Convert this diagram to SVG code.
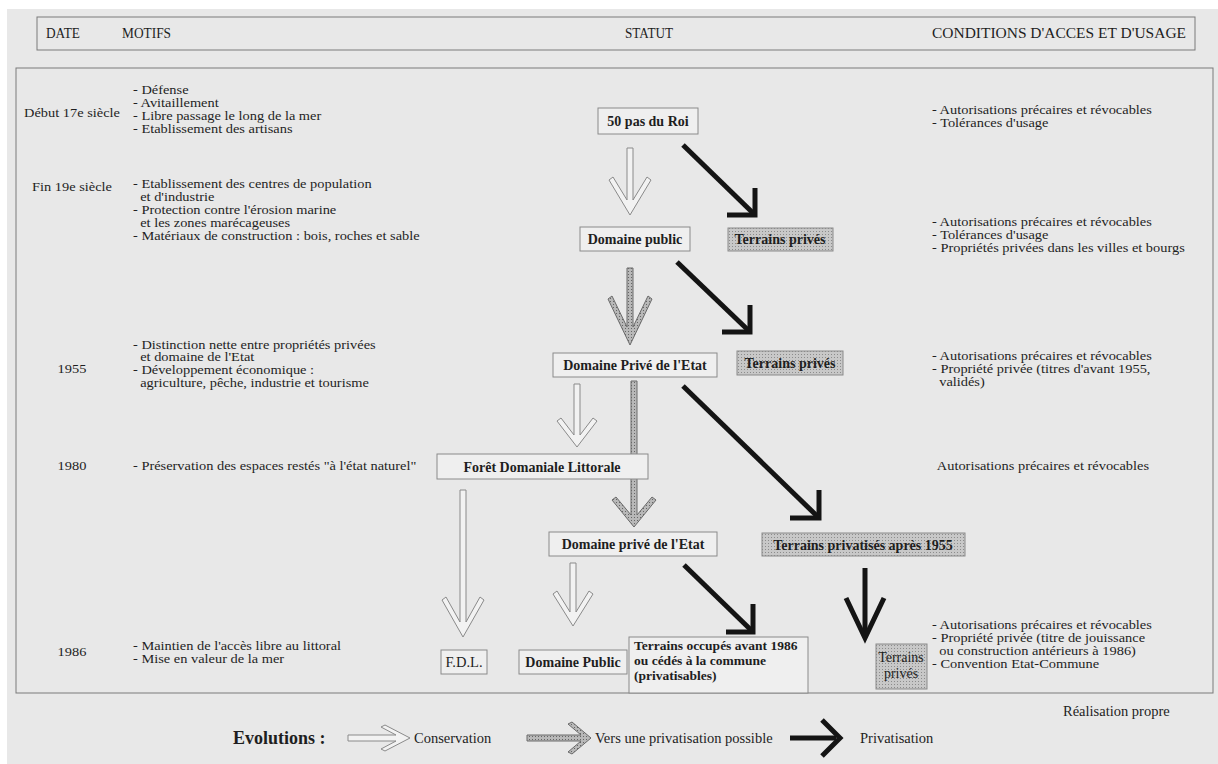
<svg xmlns="http://www.w3.org/2000/svg" width="1218" height="764" viewBox="0 0 1218 764">
<defs>
<pattern id="dots" width="3" height="3" patternUnits="userSpaceOnUse">
<rect width="3" height="3" fill="#c8c8c8"/>
<rect x="0" y="0" width="1" height="1" fill="#8c8c8c"/>
</pattern>
<pattern id="hatch" width="3" height="3" patternUnits="userSpaceOnUse">
<rect width="3" height="3" fill="#b8b8b8"/>
<rect x="1" y="1" width="1" height="1" fill="#666666"/>
</pattern>
</defs>
<style>
text{font-family:"Liberation Serif","Times New Roman",serif;fill:#1e1e1e}
.t{font-size:14.5px}
.s{font-size:12px}
.h{font-size:14px}
.b{font-size:14px;font-weight:bold;text-anchor:middle}
.bl{font-size:13.5px;font-weight:bold}
.box{fill:#efefef;stroke:#8a8a8a;stroke-width:1}
.gbox{fill:url(#dots);stroke:#8a8a8a;stroke-width:1}
.cons{fill:#f2f2f2;stroke:#8a8a8a;stroke-width:1;stroke-linejoin:miter}
.hat{fill:url(#hatch);stroke:#6a6a6a;stroke-width:1}
.blk{fill:none;stroke:#141414;stroke-width:5;stroke-linejoin:miter;stroke-linecap:butt}
</style>
<rect width="1218" height="764" fill="#ffffff"/>
<rect x="7" y="9" width="1211" height="755" fill="#e8e8e8"/>

<g id="header">
<rect x="37" y="17" width="1158" height="33" fill="none" stroke="#7a7a7a"/>
<text class="h" x="46" y="38" textLength="34" lengthAdjust="spacingAndGlyphs">DATE</text>
<text class="h" x="122" y="38" textLength="49" lengthAdjust="spacingAndGlyphs">MOTIFS</text>
<text class="h" x="625" y="38" textLength="48" lengthAdjust="spacingAndGlyphs">STATUT</text>
<text class="h" x="932" y="38" textLength="254" lengthAdjust="spacingAndGlyphs">CONDITIONS D'ACCES ET D'USAGE</text>
</g>

<rect id="frame" x="16" y="68" width="1197" height="625" fill="none" stroke="#7a7a7a"/>

<g id="dates" class="s" text-anchor="middle" transform="matrix(1.2 0 0 1 -14.4 0)">
<text x="72" y="117">Début 17e siècle</text>
<text x="72" y="191">Fin 19e siècle</text>
<text x="72" y="373">1955</text>
<text x="72" y="470">1980</text>
<text x="72" y="656">1986</text>
</g>

<g id="motifs" class="s" transform="matrix(1.2 0 0 1 -26.6 0)">
<text x="133" y="94">- Défense</text>
<text x="133" y="107">- Avitaillement</text>
<text x="133" y="120">- Libre passage le long de la mer</text>
<text x="133" y="133">- Etablissement des artisans</text>
<text x="133" y="188">- Etablissement des centres de population</text>
<text x="139" y="201">et d'industrie</text>
<text x="133" y="214">- Protection contre l'érosion marine</text>
<text x="139" y="227">et les zones marécageuses</text>
<text x="133" y="240">- Matériaux de construction : bois,  roches et sable</text>
<text x="133" y="349">- Distinction nette entre propriétés privées</text>
<text x="139" y="361">et domaine de l'Etat</text>
<text x="133" y="374">- Développement économique :</text>
<text x="139" y="387">agriculture, pêche, industrie et tourisme</text>
<text x="133" y="470">- Préservation des espaces restés "à l'état naturel"</text>
<text x="133" y="650">- Maintien de l'accès libre au littoral</text>
<text x="133" y="663">- Mise en valeur de la mer</text>
</g>

<g id="conditions" class="s" transform="matrix(1.2 0 0 1 -186.4 0)">
<text x="932" y="114">- Autorisations précaires et révocables</text>
<text x="932" y="127">- Tolérances d'usage</text>
<text x="932" y="226">- Autorisations précaires et révocables</text>
<text x="932" y="239">- Tolérances d'usage</text>
<text x="932" y="252">- Propriétés privées dans les villes et bourgs</text>
<text x="932" y="360">- Autorisations précaires et révocables</text>
<text x="932" y="373">- Propriété privée (titres d'avant 1955,</text>
<text x="938" y="386">validés)</text>
<text x="936" y="470">Autorisations précaires et révocables</text>
<text x="932" y="629">- Autorisations précaires et révocables</text>
<text x="932" y="642">- Propriété privée (titre de jouissance</text>
<text x="938" y="655">ou construction antérieurs à 1986)</text>
<text x="932" y="668">- Convention Etat-Commune</text>
</g>

<g id="connectors">
<path class="cons" d="M627,148 L633,148 L633,200 L647,177 L651,180 L630,215 L609,180 L613,177 L627,200 Z"/>
<path class="blk" d="M683,145 L753,213"/>
<polyline class="blk" points="727,215 755,215 755,188"/>
<path class="hat" d="M627,268 L633,268 L633,327 L648,296 L652,299 L630,345 L608,299 L612,296 L627,327 Z"/>
<path class="blk" d="M677,262 L748,330"/>
<polyline class="blk" points="722,332 750,332 750,305"/>
<path class="cons" d="M574,384 L580,384 L580,435 L593,418 L597,421 L577,447 L557,421 L561,418 L574,435 Z"/>
<path class="hat" d="M631,381 L637,381 L637,515 L652,497 L656,500 L634,527 L612,500 L616,497 L631,515 Z"/>
<path class="blk" d="M683,386 L817,516"/>
<polyline class="blk" points="790,518 819,518 819,490"/>
<path class="cons" d="M460,490 L466,490 L466,622 L480,597 L484,600 L463,637 L442,600 L446,597 L460,622 Z"/>
<path class="cons" d="M570,563 L576,563 L576,612 L589,591 L593,594 L573,626 L553,594 L557,591 L570,612 Z"/>
<path class="blk" d="M684,565 L751,630"/>
<polyline class="blk" points="726,632 753,632 753,604"/>
<path class="blk" d="M865,568 L865,634"/>
<polyline class="blk" points="846,598 865,638 884,598"/>
</g>

<g id="n-roi"><rect class="box" x="598" y="108" width="100" height="26"/><text class="b" x="648" y="126">50 pas du Roi</text></g>
<g id="n-dpublic"><rect class="box" x="580" y="227" width="110" height="24"/><text class="b" x="635" y="244">Domaine public</text></g>
<g id="n-tp1"><rect class="gbox" x="728" y="228" width="105" height="23"/><text class="b" x="780" y="244">Terrains privés</text></g>
<g id="n-dprive"><rect class="box" x="553" y="353" width="164" height="24"/><text class="b" x="635" y="370">Domaine Privé de l'Etat</text></g>
<g id="n-tp2"><rect class="gbox" x="737" y="351" width="106" height="24"/><text class="b" x="790" y="368">Terrains privés</text></g>
<g id="n-foret"><rect class="box" x="437" y="454" width="211" height="25"/><text class="b" x="542" y="472">Forêt Domaniale Littorale</text></g>
<g id="n-dprive2"><rect class="box" x="549" y="532" width="168" height="24"/><text class="b" x="633" y="549">Domaine privé de l'Etat</text></g>
<g id="n-tpap"><rect class="gbox" x="762" y="533" width="203" height="23"/><text class="b" x="863" y="550">Terrains privatisés après 1955</text></g>
<g id="n-fdl"><rect class="box" x="441" y="650" width="46" height="24"/><text class="t" x="464" y="667" text-anchor="middle">F.D.L.</text></g>
<g id="n-dpub2"><rect class="box" x="519" y="650" width="108" height="24"/><text class="b" x="573" y="667">Domaine Public</text></g>
<g id="n-tocc"><rect class="box" x="629" y="637" width="179" height="56"/>
<text class="bl" x="634" y="650">Terrains occupés avant 1986</text>
<text class="bl" x="634" y="665">ou cédés à la commune</text>
<text class="bl" x="634" y="680">(privatisables)</text></g>
<g id="n-tp3"><rect class="gbox" x="876" y="644" width="51" height="45"/>
<text x="901" y="662" text-anchor="middle" style="font-size:14px">Terrains</text>
<text x="901" y="678" text-anchor="middle" style="font-size:14px">privés</text></g>

<text class="t" x="1063" y="716">Réalisation propre</text>

<g id="legend">
<text x="233" y="744" style="font-size:18px;font-weight:bold">Evolutions :</text>
<path class="cons" d="M348,735 L396,735 L381,727 L385,725 L410,738 L385,751 L381,749 L396,741 L348,741 Z"/>
<text class="t" x="414" y="743">Conservation</text>
<path class="hat" d="M527,735 L581,735 L568,724 L572,722 L591,738 L572,754 L568,752 L581,741 L527,741 Z"/>
<text class="t" x="595" y="743">Vers une privatisation possible</text>
<path class="blk" d="M790,738 L836,738"/>
<polyline class="blk" points="822,720 840,738 822,756"/>
<text class="t" x="860" y="743">Privatisation</text>
</g>
</svg>
